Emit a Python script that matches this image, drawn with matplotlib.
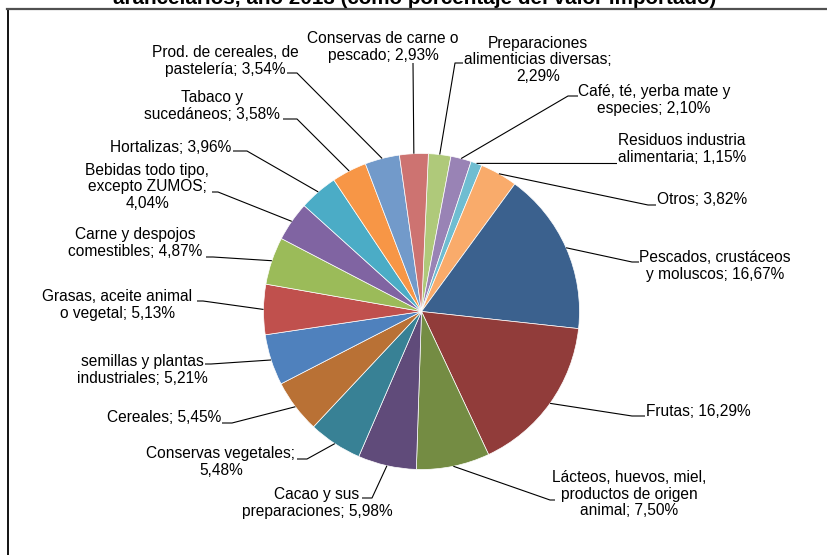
import matplotlib
matplotlib.use("Agg")
import matplotlib.pyplot as plt
import numpy as np

plt.rcParams['font.family'] = ['Liberation Sans', 'DejaVu Sans']

# Import shares by product group, clockwise from 12 o'clock
categories = [
    "Preparaciones\nalimenticias diversas",
    "Café, té, yerba mate y\nespecies",
    "Residuos industria\nalimentaria",
    "Otros",
    "Pescados, crustáceos\ny moluscos",
    "Frutas",
    "Lácteos, huevos, miel,\nproductos de origen\nanimal",
    "Cacao y sus\npreparaciones",
    "Conservas vegetales",
    "Cereales",
    "semillas y plantas\nindustriales",
    "Grasas, aceite animal\no vegetal",
    "Carne y despojos\ncomestibles",
    "Bebidas todo tipo,\nexcepto ZUMOS",
    "Hortalizas",
    "Tabaco y\nsucedáneos",
    "Prod. de cereales, de\npastelería",
    "Conservas de carne o\npescado",
]
shares = [2.29, 2.10, 1.15, 3.82, 16.67, 16.29, 7.50, 5.98, 5.48, 5.45,
          5.21, 5.13, 4.87, 4.04, 3.96, 3.58, 3.54, 2.93]
# value printed on its own line for these labels
value_on_new_line = [True, False, False, False, False, False, False, False, True,
                     False, False, False, False, True, False, False, False, False]

colors = ["#AFC97A", "#9983B5", "#6FBDD1", "#F9AB6B", "#3B618E", "#913C3A",
          "#748C43", "#604B7A", "#388195", "#B97135", "#4F81BD", "#C0504D",
          "#9BBB59", "#8064A2", "#4BACC6", "#F79646", "#729ACA", "#CD7371"]

title = "arancelarios, año 2013 (como porcentaje del valor importado)"

W, H = 827, 555


def P(x, y):
    """pixel position (origin top-left) -> axes data coords"""
    return x, H - y


# label block centres and leader elbows / ends, in pixels
label_pos = [(538, 60), (654, 100), (682, 149), (702, 200), (715, 266),
             (698, 411), (629, 494), (317, 503), (221, 462), (164, 418),
             (142, 370), (117, 305), (135, 243), (147, 187), (171, 147),
             (212, 106), (225, 61), (383, 47)]
leader_elbow = [(455, 63), (568, 96), (612, 163.5), (648, 205), (632, 262),
                (632, 416), (550, 500), (372, 498), (307, 459), (232, 423),
                (211, 364), (203, 301), (213, 257), (218, 192), (247, 151),
                (297, 119), (297, 73), (413, 63)]
leader_end = [(463, 63), (578, 96), (617, 163.5), (656, 205), (639, 262),
              (645, 416), (555, 500), (362, 498), (297, 459), (222, 423),
              (205, 364), (197, 301), (206, 257), (212, 192), (233, 151),
              (283, 119), (287, 73), (413, 63)]

fig = plt.figure(figsize=(W / 100, H / 100), dpi=100)
ax = fig.add_axes([0, 0, 1, 1])

center = P(421.5, 311.5)
radius = 158
wedges, _ = ax.pie(shares, colors=colors, startangle=87.5, counterclock=False,
                   center=center, radius=radius,
                   wedgeprops=dict(edgecolor="white", linewidth=0.5))

ax.set_xlim(0, W)
ax.set_ylim(0, H)
ax.set_aspect("equal")
ax.axis("off")

for i, w in enumerate(wedges):
    mid = np.deg2rad((w.theta1 + w.theta2) / 2)
    sx = center[0] + radius * np.cos(mid)
    sy = center[1] + radius * np.sin(mid)
    ex, ey = P(*leader_elbow[i])
    tx, ty = P(*leader_end[i])
    ax.plot([sx, ex, tx], [sy, ey, ty], color="black", lw=0.8,
            solid_capstyle="butt", zorder=3)

    pct = f"{shares[i]:.2f}%".replace(".", ",")
    sep = ";\n" if value_on_new_line[i] else "; "
    lx, ly = P(*label_pos[i])
    ax.text(lx, ly, categories[i] + sep + pct, ha="center", va="center",
            multialignment="center", fontsize=11.2, linespacing=1.15,
            color="black", zorder=4)

# chart title, mostly above the visible area
tx, ty = P(415, 4.5)
ax.text(tx, ty, title, ha="center", va="baseline", fontsize=14.9,
        fontweight="bold", color="black")

# chart area border (left and top edges)
fig.add_artist(plt.Line2D([7.5 / W, 7.5 / W], [0, 1 - 8.5 / H],
                          transform=fig.transFigure, color="black", lw=1.3))
fig.add_artist(plt.Line2D([7 / W, 1], [1 - 8.5 / H, 1 - 8.5 / H],
                          transform=fig.transFigure, color="#505050", lw=1.6))

fig.savefig("out.png", dpi=100)
